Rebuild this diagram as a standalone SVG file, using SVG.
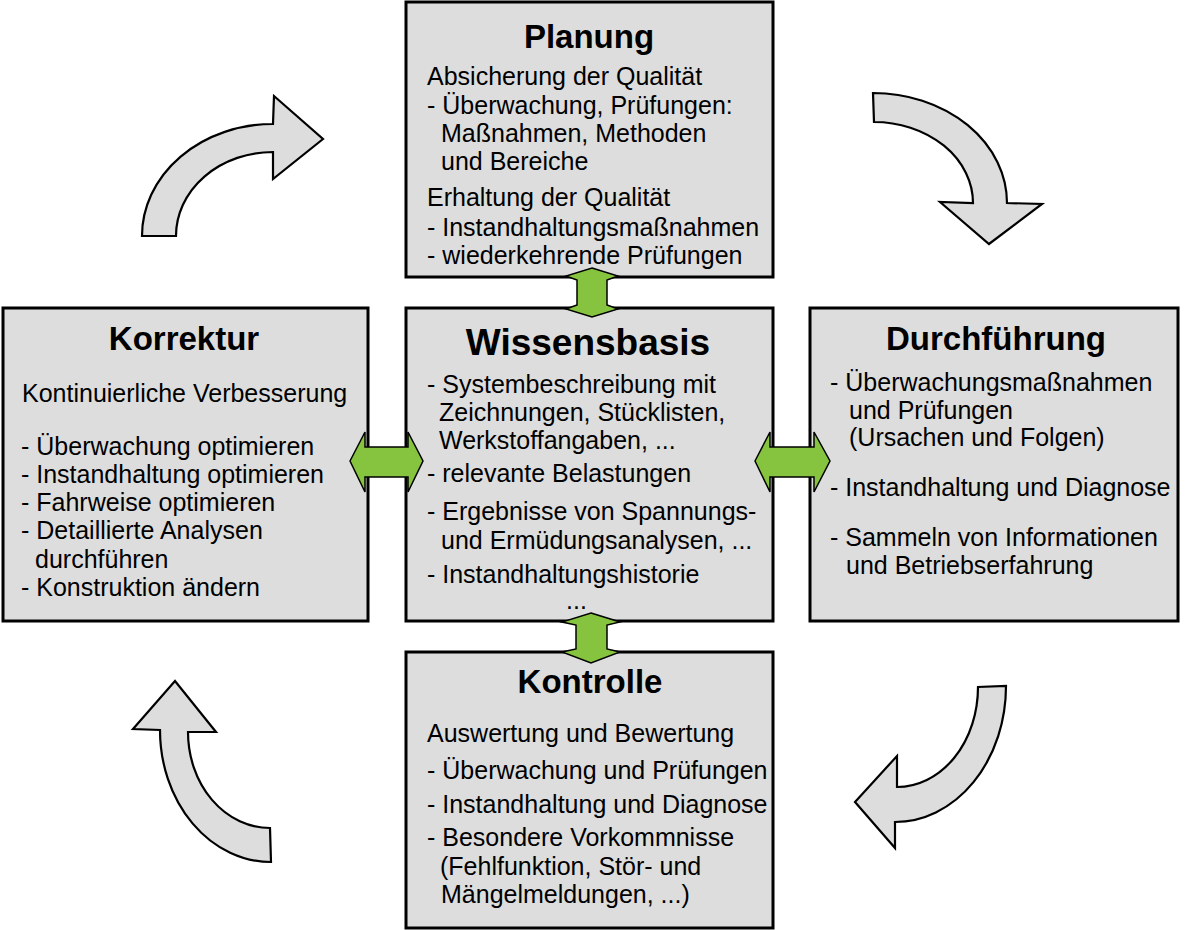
<svg xmlns="http://www.w3.org/2000/svg" width="1191" height="930" viewBox="0 0 1191 930">
<style>
.box{fill:#dddddd;stroke:#000;stroke-width:3}
.t{font-family:"Liberation Sans",Arial,sans-serif;font-weight:bold;font-size:33px;fill:#000;text-anchor:middle}
.b{font-family:"Liberation Sans",Arial,sans-serif;font-size:25px;fill:#000}
.cy{fill:#dddddd;stroke:#000;stroke-width:2.2;stroke-linejoin:miter}
.ga{fill:#86c440;stroke:#000;stroke-width:1.5;stroke-linejoin:miter}
</style>
<rect width="1191" height="930" fill="#fff"/>
<g id="cycle">
<path class="cy" d="M142,236 A131,112 0 0 1 273,124 L274,96 L323,139 L273,179 L273,152 A97,84 0 0 0 176,236 Z"/>
<path class="cy" d="M873,93 A134,110 0 0 1 1007,203 L1042,204 L989,244 L940,202 L973,203 A99,81 0 0 0 874,122 Z"/>
<path class="cy" d="M1006,686 A111,136 0 0 1 895,822 L895,848 L855,802 L897,756 L897,787 A81,100 0 0 0 978,687 Z"/>
<path class="cy" d="M271,862 A111,132 0 0 1 160,730 L133,729 L175,681 L216,732 L188,732 A82,96 0 0 0 270,828 Z"/>
</g>
<g id="planung">
<rect class="box" x="406" y="2" width="367" height="275"/>
<text class="t" x="589" y="48">Planung</text>
<text class="b" x="427" y="85">Absicherung der Qualität</text>
<text class="b" x="427" y="114">- Überwachung, Prüfungen:</text>
<text class="b" x="441" y="142">Maßnahmen, Methoden</text>
<text class="b" x="441" y="170">und Bereiche</text>
<text class="b" x="427" y="206">Erhaltung der Qualität</text>
<text class="b" x="427" y="236">- Instandhaltungsmaßnahmen</text>
<text class="b" x="427" y="264">- wiederkehrende Prüfungen</text>
</g>
<g id="korrektur">
<rect class="box" x="3" y="308" width="365" height="313"/>
<text class="t" x="184" y="350">Korrektur</text>
<text class="b" x="22" y="402">Kontinuierliche Verbesserung</text>
<text class="b" x="21" y="455">- Überwachung optimieren</text>
<text class="b" x="21" y="483">- Instandhaltung optimieren</text>
<text class="b" x="21" y="511">- Fahrweise optimieren</text>
<text class="b" x="21" y="539">- Detaillierte Analysen</text>
<text class="b" x="35" y="568">durchführen</text>
<text class="b" x="21" y="596">- Konstruktion ändern</text>
</g>
<g id="wissensbasis">
<rect class="box" x="406" y="308" width="367" height="313"/>
<text class="t" x="588" y="355" style="font-size:37px">Wissensbasis</text>
<text class="b" x="427" y="393">- Systembeschreibung mit</text>
<text class="b" x="439" y="421">Zeichnungen, Stücklisten,</text>
<text class="b" x="439" y="449">Werkstoffangaben, ...</text>
<text class="b" x="427" y="482">- relevante Belastungen</text>
<text class="b" x="427" y="520">- Ergebnisse von Spannungs-</text>
<text class="b" x="441" y="549">und Ermüdungsanalysen, ...</text>
<text class="b" x="427" y="583">- Instandhaltungshistorie</text>
<text class="b" x="566" y="609">...</text>
</g>
<g id="durchfuehrung">
<rect class="box" x="810" y="308" width="368" height="313"/>
<text class="t" x="996" y="350">Durchführung</text>
<text class="b" x="830" y="391">- Überwachungsmaßnahmen</text>
<text class="b" x="849" y="419">und Prüfungen</text>
<text class="b" x="849" y="446">(Ursachen und Folgen)</text>
<text class="b" x="830" y="496">- Instandhaltung und Diagnose</text>
<text class="b" x="830" y="546">- Sammeln von Informationen</text>
<text class="b" x="846" y="574">und Betriebserfahrung</text>
</g>
<g id="kontrolle">
<rect class="box" x="406" y="652" width="367" height="276"/>
<text class="t" x="590" y="693">Kontrolle</text>
<text class="b" x="427" y="742">Auswertung und Bewertung</text>
<text class="b" x="427" y="779">- Überwachung und Prüfungen</text>
<text class="b" x="427" y="813">- Instandhaltung und Diagnose</text>
<text class="b" x="427" y="846">- Besondere Vorkommnisse</text>
<text class="b" x="440" y="875">(Fehlfunktion, Stör- und</text>
<text class="b" x="441" y="903">Mängelmeldungen, ...)</text>
</g>
<g id="connectors">
<polygon class="ga" points="592,268 618,276 607,280 607,305 618,309 592,317 566,309 577,305 577,280 566,276"/>
<polygon class="ga" points="591,613 620,622 607,625 607,649 620,652 591,663 562,652 576,649 576,625 562,622"/>
<polygon class="ga" points="350,461 365,432 365,447 408,447 408,432 423,461 408,492 408,477 365,477 365,492"/>
<polygon class="ga" points="755,461 770,432 770,447 814,447 814,432 830,461 814,492 814,477 770,477 770,492"/>
</g>
</svg>
